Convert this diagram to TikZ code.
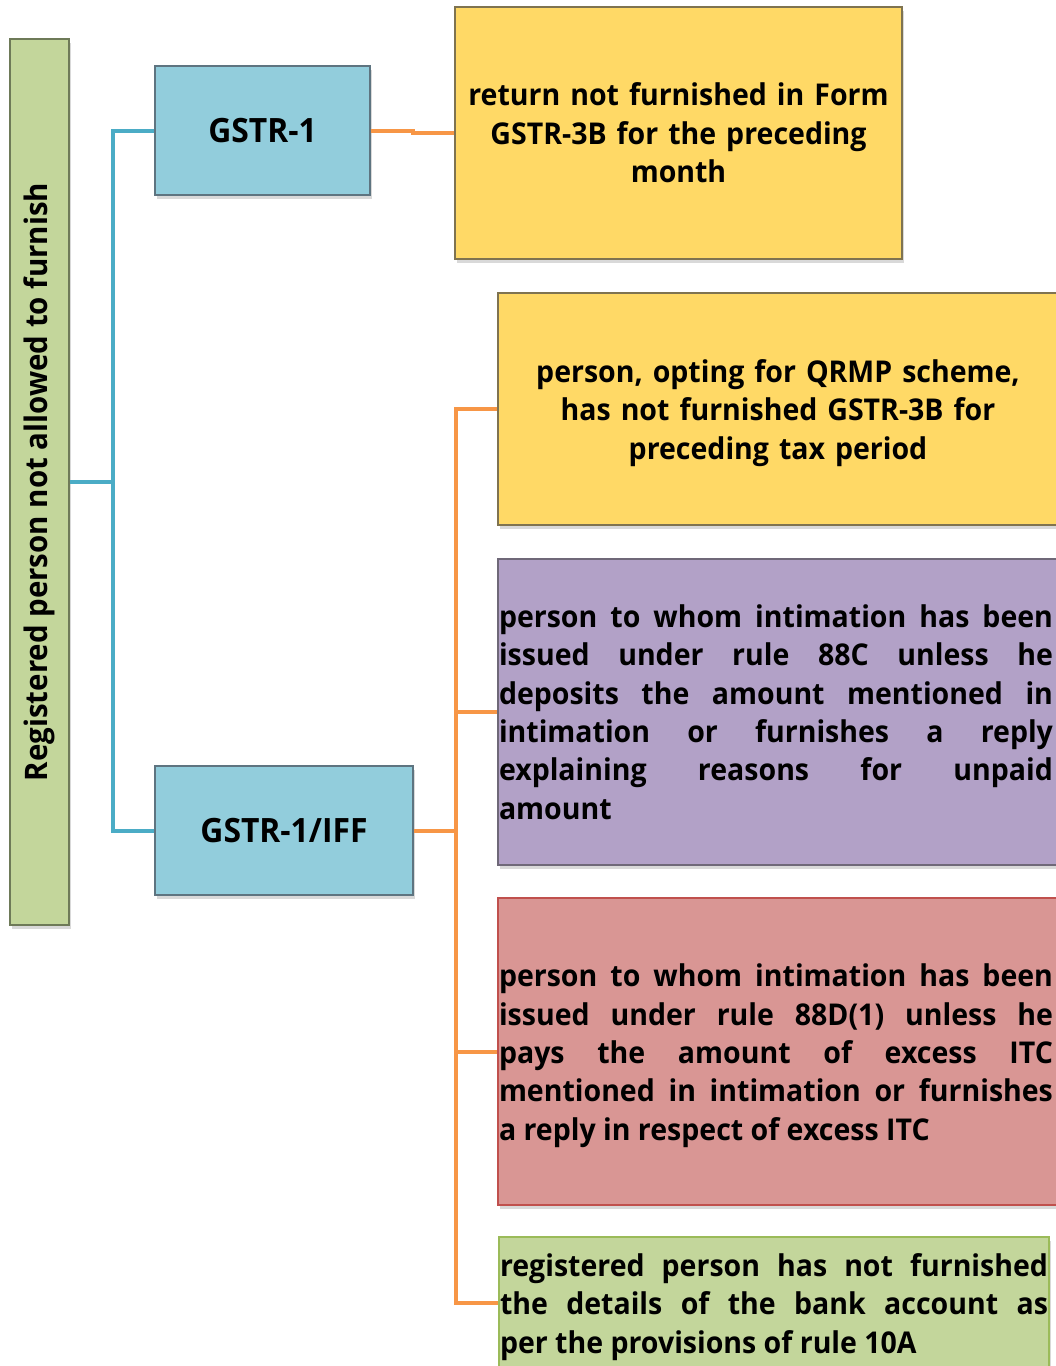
\documentclass[tikz,border=0pt]{standalone}
\usepackage{fontspec}
\setmainfont{Open Sans}[FakeStretch=0.95]
\usetikzlibrary{shadows}

\definecolor{barfill}{HTML}{C3D69B}
\definecolor{barline}{HTML}{6E7A58}
\definecolor{gstrfill}{HTML}{92CDDC}
\definecolor{gstrline}{HTML}{5E7480}
\definecolor{retfill}{HTML}{FFD966}
\definecolor{retline}{HTML}{7F7350}
\definecolor{rulecfill}{HTML}{B2A1C7}
\definecolor{rulecline}{HTML}{6F6878}
\definecolor{ruledfill}{HTML}{D99694}
\definecolor{ruledline}{HTML}{C0504D}
\definecolor{bankfill}{HTML}{C3D69B}
\definecolor{bankline}{HTML}{9BBB59}
\definecolor{blueline}{HTML}{4BACC6}
\definecolor{orangeline}{HTML}{F79646}

\newcommand{\dropline}{\rule{0pt}{31pt}}
\newcommand{\widetext}[1]{\parbox[c]{554pt}{#1}\hspace*{12pt}}

\hyphenpenalty=10000
\tolerance=9999
\emergencystretch=40pt
\hfuzz=60pt

\begin{document}
\begin{tikzpicture}[x=1pt,y=-1pt]
    \tikzstyle{every node}+=[inner sep=0pt,font=\fontsize{30}{38.4}\selectfont\bfseries]
    \tikzstyle{box}=[draw,line width=1.3pt,drop shadow={shadow xshift=2pt,shadow yshift=-4pt,opacity=0.3}]
    \tikzstyle{twig}=[line width=4pt]
    \useasboundingbox (0,0) rectangle (1056,1366);
    \clip (0,0) rectangle (1056,1366);
    \node [box,fill=barfill,draw=barline,rotate=90,minimum width=886,minimum height=59,font=\fontsize{31}{36}\selectfont\bfseries] (bar) at (39.5,482) {Registered person not allowed to furnish};
    \node [box,fill=gstrfill,draw=gstrline,minimum width=215,minimum height=129,font=\fontsize{33.5}{36}\selectfont\bfseries] (gstrA) at (262.5,130.5) {GSTR-1};
    \node [box,fill=gstrfill,draw=gstrline,minimum width=258,minimum height=129,font=\fontsize{33.5}{36}\selectfont\bfseries] (gstrB) at (284,830.5) {GSTR-1/IFF};
    \node [box,fill=retfill,draw=retline,text width=445,inner xsep=1pt,minimum height=252,align=center] (ret) at (678.5,133) {return not furnished in Form\\GSTR-3B for the preceding\\month};
    \node [box,fill=retfill,draw=retline,text width=558,inner xsep=1pt,minimum height=232,align=center] (qrmp) at (778,409) {\dropline person, opting for QRMP scheme,\\has not furnished GSTR-3B for\\preceding tax period};
    \node [box,fill=rulecfill,draw=rulecline,inner xsep=1pt,minimum height=306] (rulec) at (782,712) {\widetext{person to whom intimation has been\linebreak issued under rule 88C unless he\linebreak deposits the amount mentioned in\linebreak intimation or furnishes a reply\linebreak explaining reasons for unpaid\linebreak amount}};
    \node [box,fill=ruledfill,draw=ruledline,inner xsep=1pt,minimum height=307] (ruled) at (782,1051.5) {\widetext{\dropline person to whom intimation has been\linebreak issued under rule 88D(1) unless he\linebreak pays the amount of excess ITC\linebreak mentioned in intimation or furnishes\linebreak a reply in respect of excess ITC}};
    \node [box,fill=bankfill,draw=bankline,text width=548,inner xsep=1pt,minimum height=132,align=justify] (bank) at (774,1303) {\dropline registered person has not furnished\linebreak the details of the bank account as\linebreak per the provisions of rule 10A};
    \draw [twig,blueline] (bar.south) -- ++(43,0) coordinate (bj);
    \draw [twig,blueline] (gstrA.west) -| (bj) |- (gstrB.west);
    \draw [twig,orangeline] (gstrA.east) -- ++(42,0) |- (ret.west);
    \draw [twig,orangeline] (gstrB.east) -- ++(42,0) coordinate (oj);
    \foreach \n in {qrmp,rulec,ruled,bank}
        \draw [twig,orangeline] (oj) |- (\n.west);
\end{tikzpicture}
\end{document}
